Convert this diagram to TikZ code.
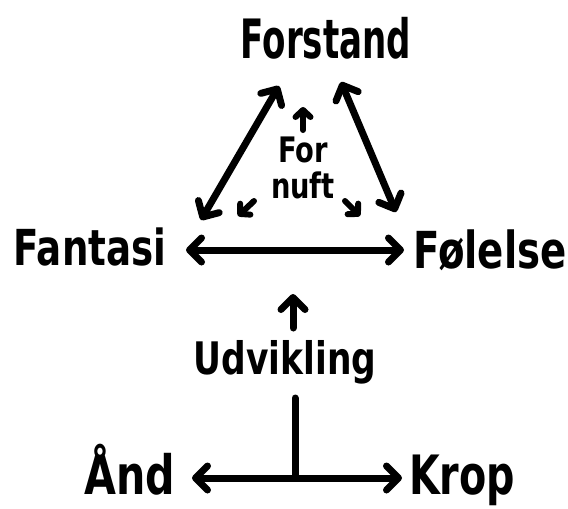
\documentclass[tikz,border=0pt]{standalone}
\usepackage{fontspec}
\setmainfont{DejaVu Sans}
\usetikzlibrary{arrows.meta}
\tikzset{
  lbl/.style={inner sep=0pt, font=\bfseries},
  conn/.style={line width=7pt, line cap=round, line join=round},
  dbl/.style={conn, {Straight Barb[length=12pt,width=24pt,line width=7pt,round]}-{Straight Barb[length=12pt,width=24pt,line width=7pt,round]}},
  sgl/.style={conn, -{Straight Barb[length=12pt,width=24pt,line width=7pt,round]}},
  small/.style={line width=6pt, line cap=round, -{Straight Barb[length=7pt,width=15pt,line width=6pt,round]}}
}
\begin{document}
\begin{tikzpicture}[x=1pt,y=-1pt]
\useasboundingbox (0,0) rectangle (568,509);
\node[lbl, font=\bfseries\fontsize{31}{31}\selectfont] (forstand) at (326,38) {\scalebox{1.1}[1.75]{Forstand}};
\node[lbl, font=\bfseries\fontsize{31}{31}\selectfont] (fantasi) at (90,247) {\scalebox{1.2}[1.6]{Fantasi}};
\node[lbl, font=\bfseries\fontsize{30}{30}\selectfont] (folelse) at (490,250) {\scalebox{1.29}[1.7]{Følelse}};
\node[lbl, align=center, font=\bfseries\fontsize{26}{36}\selectfont] (fornuft) at (303,168) {\scalebox{1.05}[1.35]{For}\\\scalebox{1.05}[1.35]{nuft}};
\node[lbl, font=\bfseries\fontsize{28}{28}\selectfont] (udvikling) at (285,362) {\scalebox{1.23}[1.6]{Udvikling}};
\node[lbl, font=\bfseries\fontsize{31}{31}\selectfont] (and) at (130,470) {\scalebox{1.33}[1.75]{Ånd}};
\node[lbl, font=\bfseries\fontsize{31}{31}\selectfont] (krop) at (462,480) {\scalebox{1.28}[1.75]{Krop}};

\coordinate (l1) at (201,220);
\coordinate (l2) at (279,86);
\coordinate (r1) at (341,82);
\coordinate (r2) at (396,212);
\coordinate (h1) at (186,250);
\coordinate (h2) at (404,250);
\coordinate (s1a) at (303,130);
\coordinate (s1b) at (303,107);
\coordinate (s2a) at (254,201);
\coordinate (s2b) at (238,216);
\coordinate (s3a) at (345,201);
\coordinate (s3b) at (360,216);
\coordinate (u1) at (293,328);
\coordinate (u2) at (293,294);
\coordinate (v1) at (295,398);
\coordinate (v2) at (295,478);
\coordinate (b1) at (192,478);
\coordinate (b2) at (402,478);

\draw[dbl] (l1) -- (l2);
\draw[dbl] (r1) -- (r2);
\draw[dbl] (h1) -- (h2);
\draw[small] (s1a) -- (s1b);
\draw[small] (s2a) -- (s2b);
\draw[small] (s3a) -- (s3b);
\draw[sgl] (u1) -- (u2);
\draw[conn] (v1) -- (v2);
\draw[dbl] (b1) -- (b2);
\end{tikzpicture}
\end{document}
